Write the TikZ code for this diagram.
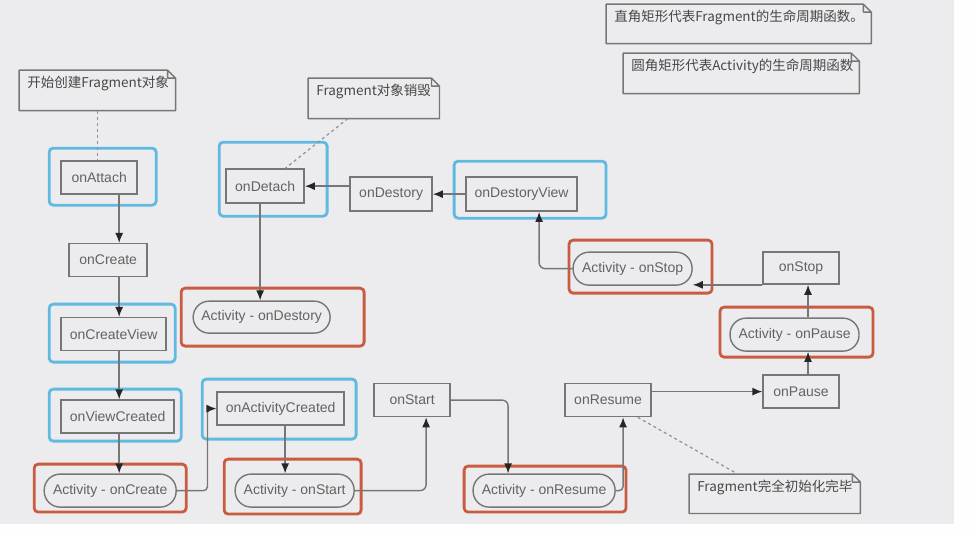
\documentclass[tikz,border=0pt]{standalone}
\usepackage{fontspec}
\setmainfont{Liberation Sans}
\newfontfamily\cjk{Noto Sans CJK SC}
\usetikzlibrary{arrows.meta,positioning,fit}
\definecolor{bgcol}{RGB}{236,236,238}
\definecolor{fragblue}{RGB}{95,185,225}
\definecolor{actred}{RGB}{201,92,64}
\definecolor{linegray}{RGB}{118,118,118}
\definecolor{txtgray}{RGB}{98,98,98}

\begin{document}
\begin{tikzpicture}[x=1pt, y=-1pt,
  font=\fontsize{14}{16}\selectfont,
  fbox/.style={draw=linegray, line width=1.4pt, fill=bgcol, text=txtgray,
               minimum height=33pt, inner sep=2pt},
  abox/.style={fbox, rounded corners=16pt},
  bframe/.style={draw=fragblue, line width=2.8pt, rounded corners=4pt, inner sep=0pt},
  rframe/.style={draw=actred, line width=2.8pt, rounded corners=4pt, inner sep=0pt},
  note/.style={anchor=north west, align=left, text=black!72,
               font=\cjk\fontsize{13.5}{15}\selectfont,
               inner xsep=8pt, inner ysep=0pt, text height=11pt, text depth=16pt},
  arr/.style={draw=linegray, line width=1.4pt, -{Latex[length=10pt, width=8pt, color=black!85]}},
  link/.style={draw=linegray!80, line width=1.2pt, dash pattern=on 3pt off 3pt}]
% background
\fill[white!97!bgcol] (0,0) rectangle (974,534);
\fill[bgcol] (0,0) rectangle (953,523);
\draw[black!8] (953,0) -- (953,523) -- (0,523);
\useasboundingbox (0,0) rectangle (974,534);

% frames: blue = Fragment, red = Activity
\node[bframe, fit={(49,148) (156,205)}] (attachf) {};
\node[bframe, fit={(49,304) (175,362)}] (createviewf) {};
\node[bframe, fit={(49,389) (181,441)}] (viewcreatedf) {};
\node[rframe, fit={(34,464) (186,512)}] (actcreatef) {};
\node[bframe, fit={(219,142) (327,216)}] (detachf) {};
\node[bframe, fit={(454,161) (606,218)}] (destoryviewf) {};
\node[rframe, fit={(181,288) (364,346)}] (actdestoryf) {};
\node[rframe, fit={(569,240) (712,293)}] (actstopf) {};
\node[rframe, fit={(720,307) (873,357)}] (actpausef) {};
\node[bframe, fit={(202,379) (356,439)}] (actcreatedf) {};
\node[rframe, fit={(224,459) (361,514)}] (actstartf) {};
\node[rframe, fit={(464,466) (626,512)}] (actresumef) {};

% lifecycle boxes
\node[fbox, minimum width=76pt] (attach) at (99,177.5) {onAttach};
\node[fbox, minimum width=78pt] (create) at (108,260) {onCreate};
\node[fbox, minimum width=105pt] (createview) at (113.5,334) {onCreateView};
\node[fbox, minimum width=113pt] (viewcreated) at (117.5,416.5) {onViewCreated};
\node[abox, minimum width=132pt] (actcreate) at (110,490.5) {Activity - onCreate};
\node[fbox, minimum width=127pt] (actcreated) at (280.5,408.5) {onActivityCreated};
\node[abox, minimum width=119pt] (actstart) at (294.5,490.5) {Activity - onStart};
\node[fbox, minimum width=76pt] (start) at (412,400) {onStart};
\node[abox, minimum width=142pt] (actresume) at (544,490.5) {Activity - onResume};
\node[fbox, minimum width=86pt] (resume) at (608,400) {onResume};
\node[fbox, minimum width=76pt] (pause) at (801,391.5) {onPause};
\node[abox, minimum width=129pt] (actpause) at (794.5,334.5) {Activity - onPause};
\node[fbox, minimum width=76pt, minimum height=32pt] (stop) at (801,268) {onStop};
\node[abox, minimum width=119pt] (actstop) at (632.5,268.5) {Activity - onStop};
\node[fbox, minimum width=111pt, minimum height=34pt] (destoryview) at (521.5,194) {onDestoryView};
\node[fbox, minimum width=82pt, minimum height=34pt] (destory) at (391,194) {onDestory};
\node[fbox, minimum width=78pt, minimum height=34pt] (detach) at (265,186) {onDetach};
\node[abox, minimum width=137pt, minimum height=32pt] (actdestory) at (261.5,317) {Activity - onDestory};

% notes
\node[note, minimum width=156pt, minimum height=40pt, text width=140pt] (startnote) at (19,70) {开始创建Fragment对象};
\node[note, minimum width=131pt, minimum height=40pt, text width=115pt] (endnote) at (308,78) {Fragment对象销毁};
\node[note, minimum width=265pt, minimum height=39pt, text width=249pt] (fragnote) at (606,4) {直角矩形代表Fragment的生命周期函数。};
\node[note, minimum width=236pt, minimum height=40pt, text width=220pt] (actnote) at (623,53) {圆角矩形代表Activity的生命周期函数};
\node[note, minimum width=171pt, minimum height=39pt, text width=155pt] (readynote) at (689,474) {Fragment完全初始化完毕};
\foreach \n in {startnote,endnote,fragnote,actnote,readynote}
  \draw[linegray, line width=1.4pt, line join=round]
    (\n.south west) -- (\n.north west) -- ([xshift=-8pt]\n.north east)
    -- ([yshift=-8pt]\n.north east) -- (\n.south east) -- cycle
    ([xshift=-8pt]\n.north east) -- ([xshift=-8pt,yshift=-8pt]\n.north east)
    -- ([yshift=-8pt]\n.north east);

% connectors
\coordinate (col) at (119,0);
\draw[arr] (attach.south -| col) -- (create.north -| col);
\draw[arr] (create.south -| col) -- (createview.north -| col);
\draw[arr] (createview.south -| col) -- (viewcreated.north -| col);
\draw[arr] (viewcreated.south -| col) -- (actcreate.north -| col);
\draw[arr, rounded corners=4pt] (actcreate.east) -| ([xshift=-9pt]actcreated.west) -- (actcreated.west);
\draw[arr] ([xshift=4.5pt]actcreated.south) -- ([xshift=4.5pt]actcreated.south |- actstart.north);
\draw[arr, rounded corners=6pt] (actstart.east) -| ([xshift=14pt]start.south);
\draw[arr, rounded corners=6pt] (start.east) -| ([xshift=-36pt]actresume.north);
\draw[arr, rounded corners=4pt] (actresume.east) -| ([xshift=15pt]resume.south);
\draw[arr] (resume.east |- pause.west) -- (pause.west);
\draw[arr] ([xshift=7pt]pause.north) -- ([xshift=7pt]pause.north |- actpause.south);
\draw[arr] ([xshift=7pt]stop.south |- actpause.north) -- ([xshift=7pt]stop.south);
\draw[arr] (stop.south west) -- (stop.south west -| actstop.east);
\draw[arr, rounded corners=6pt] (actstop.west) -| ([xshift=17.5pt]destoryview.south);
\draw[arr] (destoryview) -- (destory);
\draw[arr] (destory.west |- detach.east) -- (detach.east);
\draw[arr] ([xshift=-5pt]detach.south) -- ([xshift=-5pt]detach.south |- actdestory.north);

% note links
\draw[link] (startnote.south) -- (startnote.south |- attach.north);
\draw[link] ([xshift=-26pt]endnote.south) -- ([xshift=20pt]detach.north);
\draw[link] ([xshift=-14pt]resume.south east) -- ([xshift=-37pt]readynote.north);
\end{tikzpicture}
\end{document}
